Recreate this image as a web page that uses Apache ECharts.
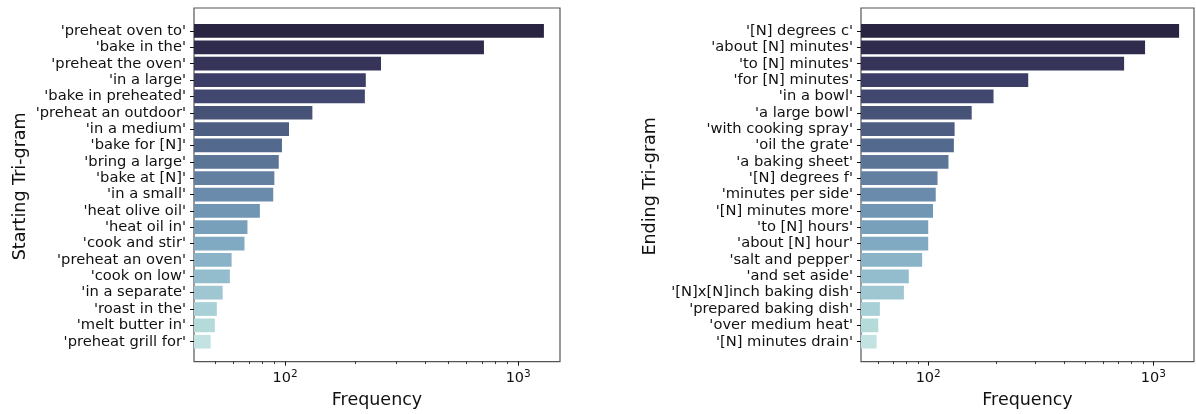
<!DOCTYPE html>
<html>
<head>
<meta charset="utf-8">
<script src="https://cdn.jsdelivr.net/npm/echarts@6/dist/echarts.min.js"></script>
<style>html,body{margin:0;padding:0;background:#fff}#c{width:1196px;height:414px}</style>
</head>
<body>
<div id="c"></div>
<script>
const startCategories = ["'preheat oven to'", "'bake in the'", "'preheat the oven'", "'in a large'", "'bake in preheated'", "'preheat an outdoor'", "'in a medium'", "'bake for [N]'", "'bring a large'", "'bake at [N]'", "'in a small'", "'heat olive oil'", "'heat oil in'", "'cook and stir'", "'preheat an oven'", "'cook on low'", "'in a separate'", "'roast in the'", "'melt butter in'", "'preheat grill for'"];
const startValues = [1289, 713, 258, 222, 220, 131, 104, 97, 94, 90, 89, 78, 69, 67, 59, 58, 54, 51, 50, 48];
const endCategories = ["'[N] degrees c'", "'about [N] minutes'", "'to [N] minutes'", "'for [N] minutes'", "'in a bowl'", "'a large bowl'", "'with cooking spray'", "'oil the grate'", "'a baking sheet'", "'[N] degrees f'", "'minutes per side'", "'[N] minutes more'", "'to [N] hours'", "'about [N] hour'", "'salt and pepper'", "'and set aside'", "'[N]x[N]inch baking dish'", "'prepared baking dish'", "'over medium heat'", "'[N] minutes drain'"];
const endValues = [1300, 918, 741, 278, 195, 156, 131, 130, 123, 110, 108, 105, 100, 100, 94, 82, 78, 61, 60, 59];
const majorTicks = [100, 1000];
const minorTicks = [20, 30, 40, 50, 60, 70, 80, 90, 200, 300, 400, 500, 600, 700, 800, 900, 2000];
const palette = ['#282442', '#2f2b4d', '#363459', '#3c3d66', '#42476f', '#475277', '#4d5e82', '#54698e', '#5b7597', '#6480a0', '#6a8bab', '#7096b3', '#78a0ba', '#80aac2', '#8ab3c7', '#93bdcc', '#9fc7d1', '#a9d0d6', '#b5dada', '#c3e3e3'];

const FONT = 'DejaVu Sans';
const TXT = '#111';
const panels = [
  {cats: startCategories, vals: startValues, left: 194, right: 636, min: 40.7, max: 1511, name: 'Starting Tri-gram', nameGap: 165},
  {cats: endCategories, vals: endValues, left: 861, right: 2, min: 50.3, max: 1514, name: 'Ending Tri-gram', nameGap: 202}
];
const grid = [], xAxis = [], yAxis = [], series = [];
panels.forEach((p, i) => {
  const gFrame = grid.length;
  grid.push({left: p.left, right: p.right, top: 8, bottom: 50, show: true, borderColor: '#555', borderWidth: 1.2, backgroundColor: 'transparent'});
  const gData = grid.length;
  grid.push({left: p.left, right: p.right, top: 22.8, bottom: 64.1});
  xAxis.push({
    type: 'log', gridIndex: gFrame, position: 'bottom', min: p.min, max: p.max, logBase: 10,
    axisLine: {show: false}, splitLine: {show: false},
    axisTick: {show: true, customValues: majorTicks, length: 4, lineStyle: {color: '#111', width: 1}},
    axisLabel: {
      customValues: majorTicks, margin: 7, color: TXT, fontFamily: FONT,
      formatter: v => '{b|10}{s|' + Math.round(Math.log10(v)) + '}',
      rich: {b: {fontSize: 14.5, fontFamily: FONT, color: TXT}, s: {fontSize: 10.5, fontFamily: FONT, color: TXT, padding: [0, 0, 9, 0]}}
    },
    name: 'Frequency', nameLocation: 'middle', nameGap: 26,
    nameTextStyle: {fontSize: 17.5, fontFamily: FONT, color: TXT}
  });
  yAxis.push({type: 'value', gridIndex: gFrame, show: false});
  xAxis.push({
    type: 'log', gridIndex: gFrame, position: 'bottom', min: p.min, max: p.max, logBase: 10,
    axisLine: {show: false}, splitLine: {show: false},
    axisTick: {show: true, customValues: minorTicks, length: 2.5, lineStyle: {color: '#111', width: 0.8}},
    axisLabel: {show: false}
  });
  const xData = xAxis.length;
  xAxis.push({type: 'log', gridIndex: gData, position: 'bottom', min: p.min, max: p.max, logBase: 10, show: false});
  const yData = yAxis.length;
  yAxis.push({
    type: 'category', gridIndex: gData, data: p.cats, inverse: true,
    axisLine: {show: false},
    axisTick: {show: true, alignWithLabel: true, length: 4, lineStyle: {color: '#111'}},
    axisLabel: {fontSize: 14.7, fontFamily: FONT, color: TXT, margin: 8, interval: 0},
    name: p.name, nameLocation: 'middle', nameGap: p.nameGap, nameRotate: 90,
    nameTextStyle: {fontSize: 17.5, fontFamily: FONT, color: TXT}
  });
  series.push({
    type: 'bar', xAxisIndex: xData, yAxisIndex: yData, barCategoryGap: '16%',
    data: p.vals.map((v, k) => ({value: v, itemStyle: {color: palette[k]}})),
    animation: false
  });
});
const chart = echarts.init(document.getElementById('c'), null, {renderer: 'canvas'});
chart.setOption({animation: false, grid, xAxis, yAxis, series});
</script>
</body>
</html>
